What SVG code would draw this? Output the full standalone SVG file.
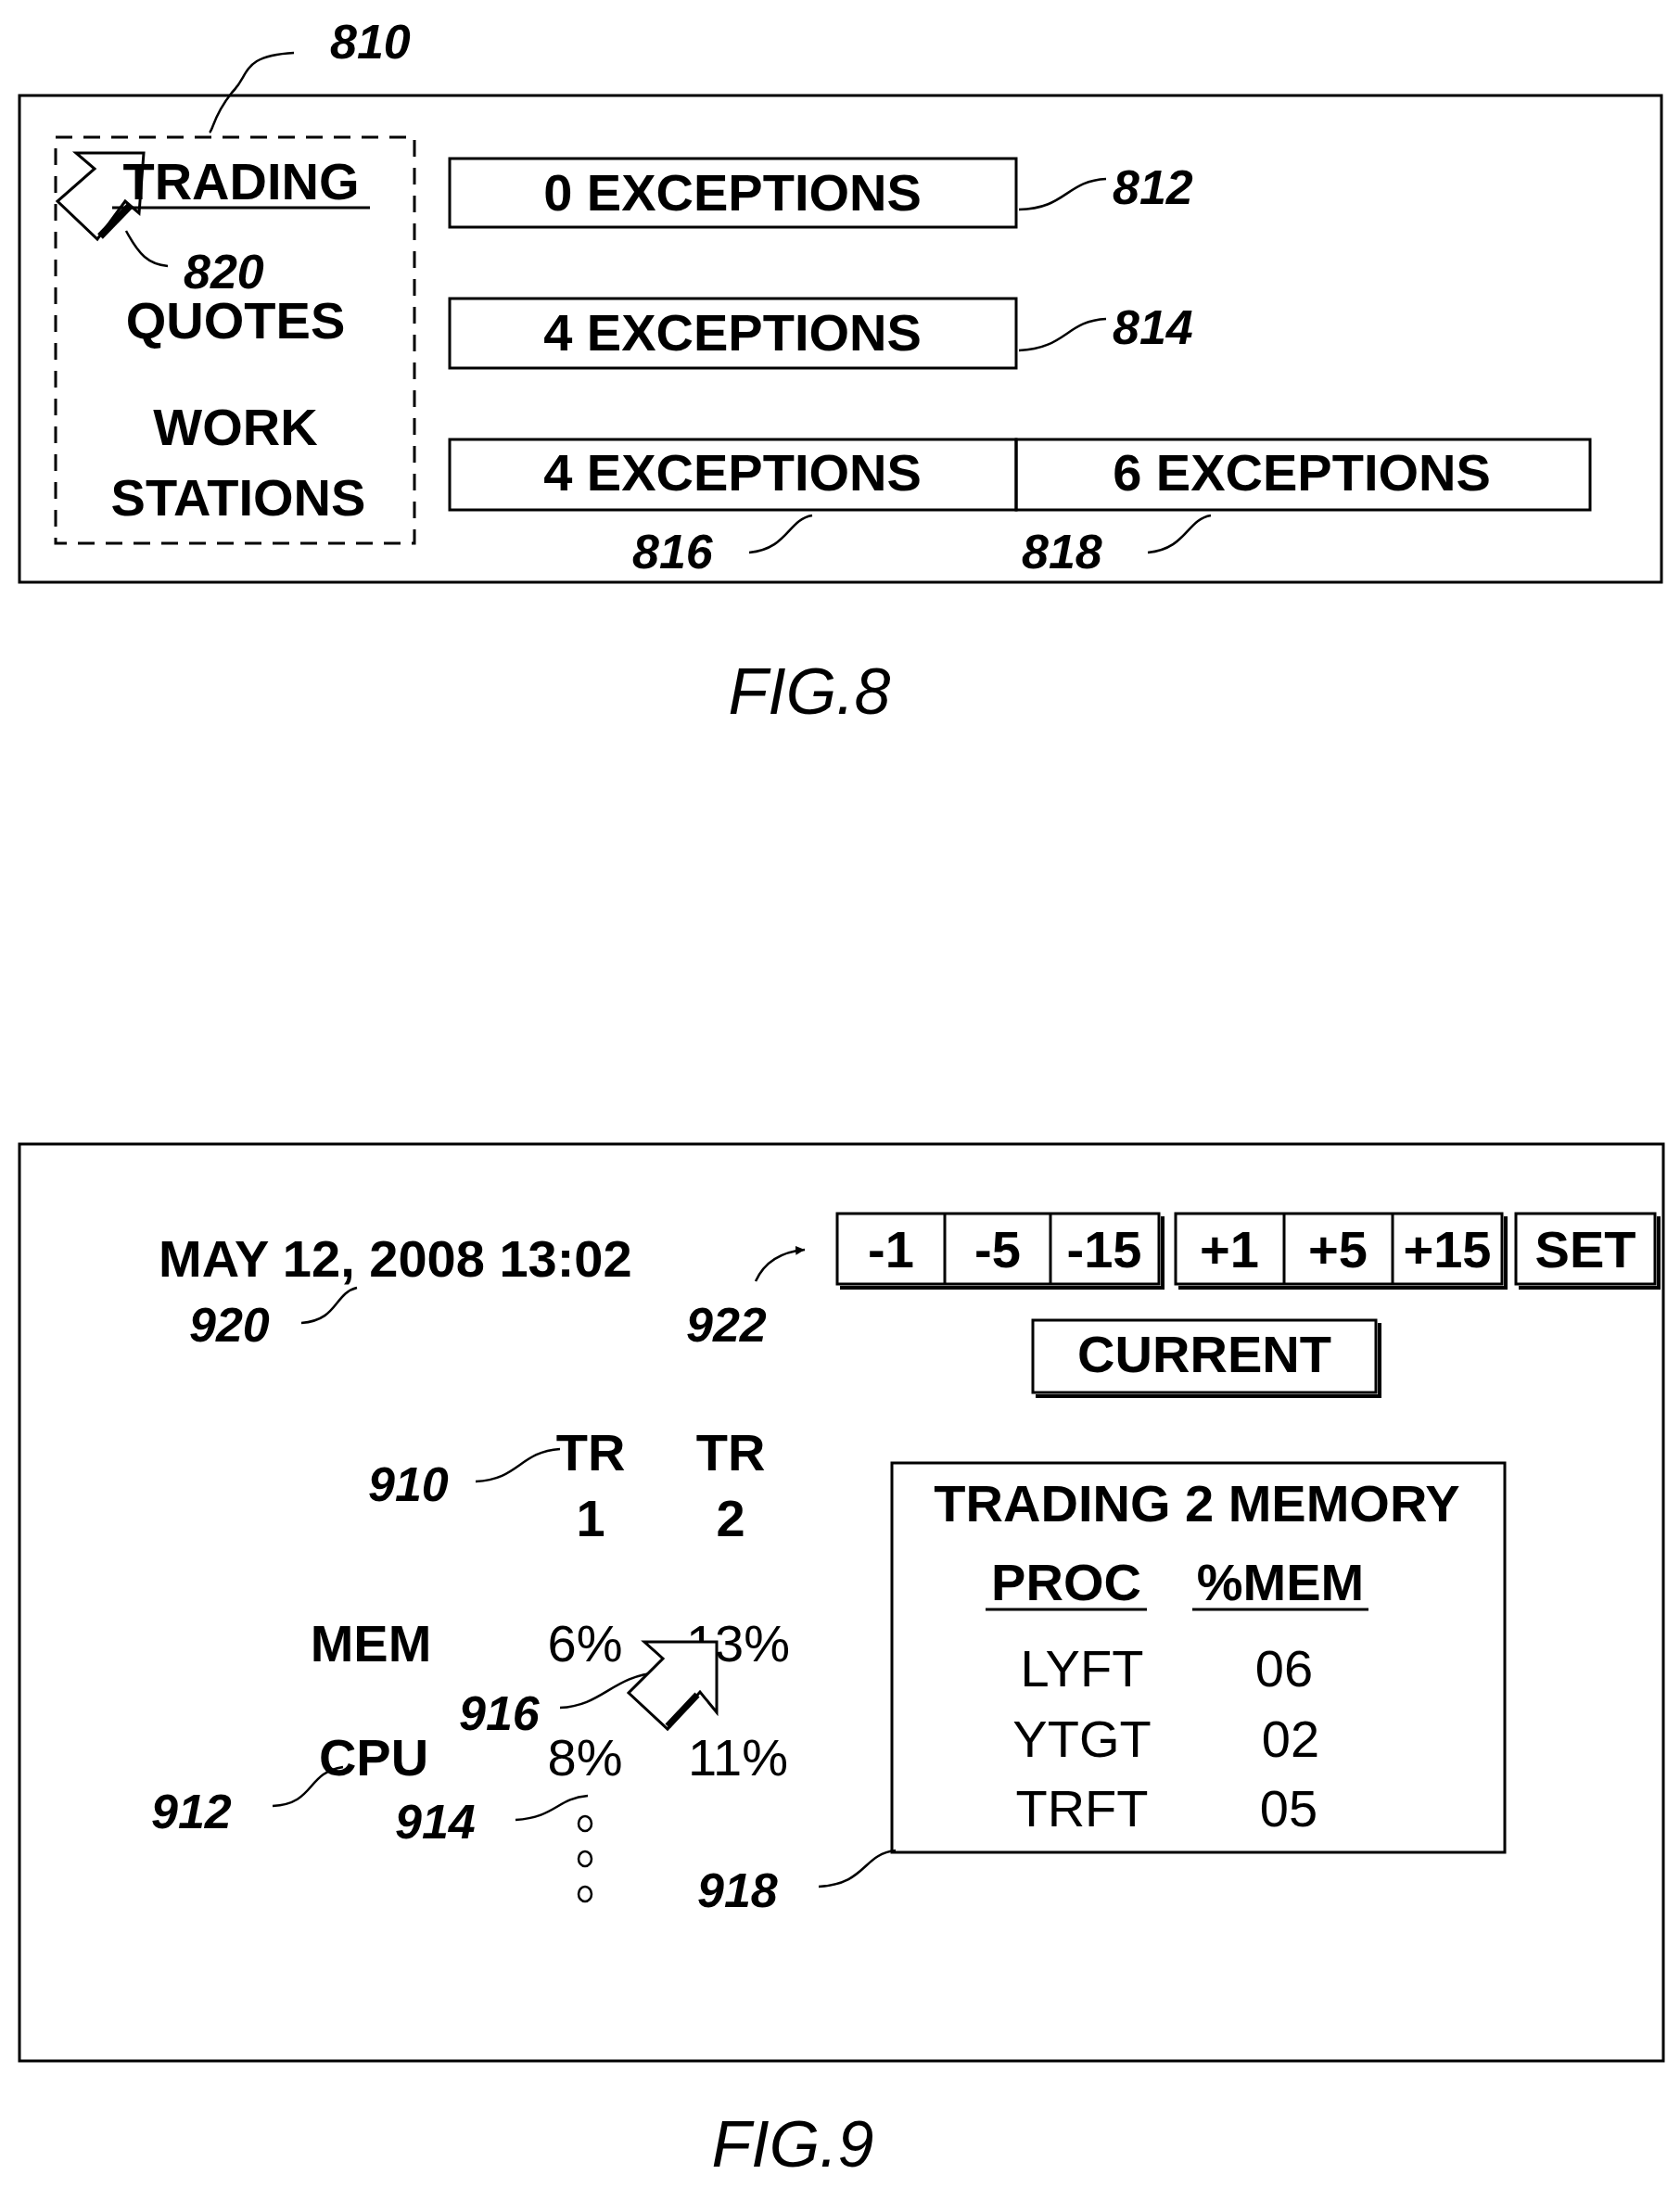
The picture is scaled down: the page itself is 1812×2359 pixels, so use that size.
<svg xmlns="http://www.w3.org/2000/svg" width="1812" height="2359" viewBox="0 0 1812 2359">
<style>
.t{font-family:"Liberation Sans",Arial,sans-serif;font-weight:bold;font-size:56px;fill:#000;text-anchor:middle}
.n{font-family:"Liberation Sans",Arial,sans-serif;font-size:56px;fill:#000;text-anchor:middle}
.l{font-family:"Liberation Sans",Arial,sans-serif;font-style:italic;font-weight:bold;font-size:52px;fill:#000}
.f{font-family:"Liberation Sans",Arial,sans-serif;font-style:italic;font-size:70px;fill:#000;text-anchor:middle}
.b{fill:none;stroke:#000;stroke-width:3}
.sh{fill:none;stroke:#000;stroke-width:3}
.ld{fill:none;stroke:#000;stroke-width:2.5}
</style>
<defs><marker id="ah" markerWidth="12" markerHeight="12" refX="10" refY="5" orient="auto" markerUnits="userSpaceOnUse"><path d="M0,0 L10,5 L0,10 z" fill="#000"/></marker></defs>
<rect class="b" x="21" y="103" width="1771" height="525"/>
<g id="menu"><rect x="60" y="148" width="387" height="438" fill="none" stroke="#000" stroke-width="3" stroke-dasharray="18,12"/>
<polygon points="82,165 155,165 150,230 135,217 105,258 62,217 102,182" fill="none" stroke="#000" stroke-width="3"/>
<line x1="108" y1="255" x2="140" y2="222" stroke="#000" stroke-width="8"/>
<text class="t" x="260" y="215">TRADING</text><line x1="121" y1="224" x2="399" y2="224" stroke="#000" stroke-width="3"/>
<text class="t" x="254" y="365">QUOTES</text><text class="t" x="254" y="480">WORK</text><text class="t" x="257" y="556">STATIONS</text></g>
<g id="b812"><rect class="b" x="485" y="171" width="611" height="74"/><text class="t" x="790" y="227">0 EXCEPTIONS</text></g>
<g id="b814"><rect class="b" x="485" y="322" width="611" height="75"/><text class="t" x="790" y="378">4 EXCEPTIONS</text></g>
<g id="b816"><rect class="b" x="485" y="474" width="611" height="76"/><text class="t" x="790" y="529">4 EXCEPTIONS</text></g>
<g id="b818"><rect class="b" x="1096" y="474" width="619" height="76"/><text class="t" x="1404" y="529">6 EXCEPTIONS</text></g>
<g id="connectors">
<path class="ld" d="M317,57 C260,60 270,80 250,100 C230,125 230,140 226,143"/>
<path class="ld" d="M181,287 C160,285 150,275 136,249"/>
<path class="ld" d="M1193,193 C1150,195 1150,225 1099,226"/>
<path class="ld" d="M1193,344 C1150,346 1150,376 1099,378"/>
<path class="ld" d="M808,596 C850,592 850,560 876,556"/>
<path class="ld" d="M1238,596 C1280,592 1280,560 1306,556"/>
<path class="ld" d="M325,1427 C365,1424 360,1395 385,1389"/>
<path class="ld" d="M815,1382 C825,1360 845,1350 868,1348" marker-end="url(#ah)"/>
<path class="ld" d="M513,1598 C560,1596 560,1566 604,1563"/>
<path class="ld" d="M604,1842 C650,1840 660,1808 710,1804"/>
<path class="ld" d="M294,1948 C340,1946 330,1912 370,1906"/>
<path class="ld" d="M556,1963 C600,1960 600,1940 634,1937"/>
<path class="ld" d="M883,2035 C935,2032 930,2000 966,1996"/>
</g>
<text class="l" x="356" y="63">810</text><text class="l" x="1200" y="220">812</text><text class="l" x="1200" y="371">814</text>
<text class="l" x="682" y="613">816</text><text class="l" x="1102" y="613">818</text><text class="l" x="198" y="311">820</text>
<text class="f" x="873" y="770">FIG.8</text>
<rect class="b" x="21" y="1234" width="1773" height="989"/>
<g id="date"><text class="t" x="171" y="1377" style="text-anchor:start">MAY 12, 2008 13:02</text></g>
<g id="buttons">
<rect class="sh" x="903" y="1309" width="347" height="76"/><line x1="1019" y1="1309" x2="1019" y2="1385" stroke="#000" stroke-width="3"/><line x1="1133" y1="1309" x2="1133" y2="1385" stroke="#000" stroke-width="3"/>
<rect class="sh" x="1268" y="1309" width="352" height="76"/><line x1="1385" y1="1309" x2="1385" y2="1385" stroke="#000" stroke-width="3"/><line x1="1502" y1="1309" x2="1502" y2="1385" stroke="#000" stroke-width="3"/>
<rect class="sh" x="1635" y="1309" width="150" height="76"/>
<polyline points="906,1389 1254,1389 1254,1312" fill="none" stroke="#000" stroke-width="4"/>
<polyline points="1271,1389 1624,1389 1624,1312" fill="none" stroke="#000" stroke-width="4"/>
<polyline points="1638,1389 1789,1389 1789,1312" fill="none" stroke="#000" stroke-width="4"/>
<text class="t" x="961" y="1367">-1</text><text class="t" x="1076" y="1367">-5</text><text class="t" x="1191" y="1367">-15</text>
<text class="t" x="1326" y="1367">+1</text><text class="t" x="1443" y="1367">+5</text><text class="t" x="1561" y="1367">+15</text><text class="t" x="1710" y="1367">SET</text>
<rect class="sh" x="1114" y="1424" width="370" height="78"/><polyline points="1117,1506 1488,1506 1488,1427" fill="none" stroke="#000" stroke-width="4"/>
<text class="t" x="1299" y="1480">CURRENT</text></g>
<g id="stats">
<text class="t" x="637" y="1586">TR</text><text class="t" x="637" y="1657">1</text><text class="t" x="788" y="1586">TR</text><text class="t" x="788" y="1657">2</text>
<text class="t" x="400" y="1792">MEM</text><text class="n" x="631" y="1792">6%</text><text class="n" x="796" y="1792">13%</text>
<text class="t" x="403" y="1915">CPU</text><text class="n" x="631" y="1915">8%</text><text class="n" x="796" y="1915">11%</text>
<ellipse cx="631" cy="1967" rx="7" ry="8" class="ld"/><ellipse cx="631" cy="2005" rx="7" ry="8" class="ld"/><ellipse cx="631" cy="2043" rx="7" ry="8" class="ld"/>
<polygon points="695,1771 773,1771 773,1847 755,1825 720,1865 678,1826 715,1789" fill="#fff" stroke="#000" stroke-width="3"/>
<line x1="720" y1="1862" x2="752" y2="1828" stroke="#000" stroke-width="7"/></g>
<g id="memory"><rect class="b" x="962" y="1578" width="661" height="420"/>
<text class="t" x="1291" y="1641">TRADING 2 MEMORY</text>
<text class="t" x="1150" y="1726">PROC</text><line x1="1063" y1="1736" x2="1237" y2="1736" stroke="#000" stroke-width="3"/>
<text class="t" x="1381" y="1726">%MEM</text><line x1="1286" y1="1736" x2="1476" y2="1736" stroke="#000" stroke-width="3"/>
<text class="n" x="1167" y="1819">LYFT</text><text class="n" x="1385" y="1819">06</text>
<text class="n" x="1167" y="1895">YTGT</text><text class="n" x="1392" y="1895">02</text>
<text class="n" x="1167" y="1970">TRFT</text><text class="n" x="1390" y="1970">05</text></g>
<text class="l" x="204" y="1447">920</text><text class="l" x="740" y="1447">922</text><text class="l" x="397" y="1619">910</text>
<text class="l" x="495" y="1866">916</text><text class="l" x="163" y="1972">912</text><text class="l" x="426" y="1983">914</text><text class="l" x="752" y="2057">918</text>
<text class="f" x="855" y="2337">FIG.9</text>
</svg>
